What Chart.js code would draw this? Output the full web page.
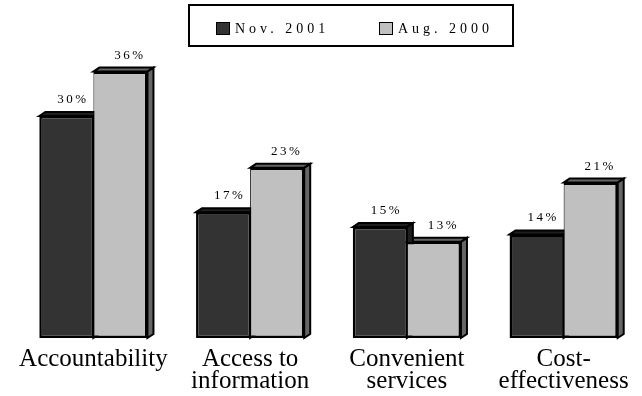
<!DOCTYPE html>
<html>
<head>
<meta charset="utf-8">
<script src="https://cdn.jsdelivr.net/npm/chart.js@4/dist/chart.umd.min.js"></script>
<style>
  html, body { margin: 0; padding: 0; background: #ffffff; }
  #wrap { width: 642px; height: 396px; position: relative; }
</style>
</head>
<body>
<div id="wrap"><canvas id="chart" width="642" height="396"></canvas></div>
<script>
// Categories and survey results (percent)
const categories = [
  'Accountability',
  ['Access to', 'information'],
  ['Convenient', 'services'],
  ['Cost-', 'effectiveness']
];
const seriesNames = ['Nov. 2001', 'Aug. 2000'];
const nov2001 = [30, 17, 15, 14];
const aug2000 = [36, 23, 13, 21];

const FRONT = ['#333333', '#c0c0c0'];
const SIDE = ['#1e1e1e', '#666666'];
const LABEL_SHIFT = [6.5, 9.5];
const DEPTH_X = 6, DEPTH_Y = 4;
const SERIF = "'Liberation Serif', 'Times New Roman', serif";

// Extruded top and right faces of each bar, drawn behind the front faces
const depthFaces = {
  id: 'depthFaces',
  beforeDatasetsDraw(chart) {
    const ctx = chart.ctx;
    ctx.save();
    ctx.lineWidth = 2;
    ctx.strokeStyle = '#000000';
    ctx.lineJoin = 'miter';
    for (let d = chart.data.datasets.length - 1; d >= 0; d--) {
      const meta = chart.getDatasetMeta(d);
      meta.data.forEach(bar => {
        const p = bar.getProps(['x', 'y', 'width', 'base'], true);
        const l = p.x - p.width / 2, r = p.x + p.width / 2;
        const t = p.y, b = p.base;
        ctx.fillStyle = SIDE[d];
        // top face
        ctx.beginPath();
        ctx.moveTo(l, t);
        ctx.lineTo(l + DEPTH_X, t - DEPTH_Y);
        ctx.lineTo(r + DEPTH_X, t - DEPTH_Y);
        ctx.lineTo(r, t);
        ctx.closePath();
        ctx.fill();
        ctx.stroke();
        // right face
        ctx.beginPath();
        ctx.moveTo(r, t);
        ctx.lineTo(r + DEPTH_X, t - DEPTH_Y);
        ctx.lineTo(r + DEPTH_X, b - DEPTH_Y);
        ctx.lineTo(r, b);
        ctx.closePath();
        ctx.fill();
        ctx.stroke();
      });
    }
    ctx.restore();
  }
};

// Percentage labels above the bars
const valueLabels = {
  id: 'valueLabels',
  afterDatasetsDraw(chart) {
    const ctx = chart.ctx;
    ctx.save();
    ctx.font = '13px ' + SERIF;
    ctx.fillStyle = '#000000';
    ctx.textAlign = 'center';
    ctx.textBaseline = 'alphabetic';
    ctx.letterSpacing = '2.5px';
    chart.data.datasets.forEach((ds, d) => {
      chart.getDatasetMeta(d).data.forEach((bar, i) => {
        const p = bar.getProps(['x', 'y'], true);
        ctx.fillText(ds.data[i] + '%', p.x + LABEL_SHIFT[d], p.y - 13);
      });
    });
    ctx.restore();
  }
};

// Boxed legend with spaced lettering
const boxedLegend = {
  id: 'boxedLegend',
  afterDraw(chart) {
    const ctx = chart.ctx;
    ctx.save();
    ctx.lineWidth = 2;
    ctx.strokeStyle = '#000000';
    ctx.strokeRect(189, 5, 324, 41);
    const swatchX = [216, 379];
    ctx.font = '14px ' + SERIF;
    ctx.textBaseline = 'middle';
    ctx.textAlign = 'left';
    ctx.letterSpacing = '4px';
    chart.data.datasets.forEach((ds, d) => {
      ctx.fillStyle = ds.backgroundColor;
      ctx.fillRect(swatchX[d], 22, 14, 13);
      ctx.lineWidth = 1;
      ctx.strokeRect(swatchX[d] + 0.5, 22.5, 13, 12);
      ctx.fillStyle = '#000000';
      ctx.fillText(ds.label, swatchX[d] + 19, 29.5);
    });
    ctx.restore();
  }
};

new Chart(document.getElementById('chart'), {
  type: 'bar',
  data: {
    labels: categories,
    datasets: [
      {
        label: seriesNames[0],
        data: nov2001,
        backgroundColor: FRONT[0],
        borderColor: '#000000',
        borderWidth: { top: 2.5, left: 2.5, bottom: 2.5, right: 1.5 },
        borderSkipped: false,
        barPercentage: 1.0,
        categoryPercentage: 0.69
      },
      {
        label: seriesNames[1],
        data: aug2000,
        backgroundColor: FRONT[1],
        borderColor: '#000000',
        borderWidth: { top: 2.5, left: 1, bottom: 2.5, right: 2.5 },
        borderSkipped: false,
        barPercentage: 1.0,
        categoryPercentage: 0.69
      }
    ]
  },
  options: {
    responsive: false,
    animation: false,
    devicePixelRatio: 1,
    layout: { padding: { top: 42, left: 15, right: 0, bottom: -6 } },
    plugins: {
      legend: { display: false },
      tooltip: { enabled: false }
    },
    scales: {
      x: {
        grid: { display: false, drawTicks: false },
        border: { display: false },
        ticks: {
          color: '#000000',
          padding: 10,
          maxRotation: 0,
          autoSkip: false,
          font: { family: SERIF, size: 25, lineHeight: 0.88 }
        }
      },
      y: {
        display: false,
        min: 0,
        max: 40
      }
    }
  },
  plugins: [depthFaces, valueLabels, boxedLegend]
});
</script>
</body>
</html>
